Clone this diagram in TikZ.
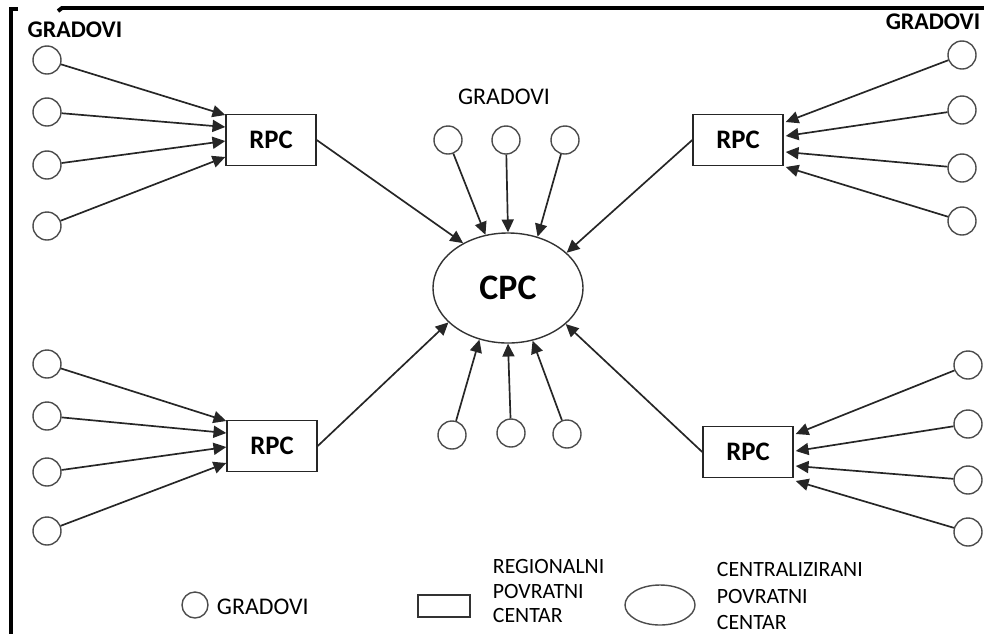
\documentclass[tikz,border=0pt]{standalone}
\usepackage{fontspec}
\setmainfont{Carlito}
\usetikzlibrary{positioning}
\usetikzlibrary{shapes.geometric}
\usetikzlibrary{arrows.meta}
\usetikzlibrary{calc}

\tikzset{
  grad/.style={circle,draw=black!70,line width=1pt,minimum size=0.7cm,inner sep=0pt},
  rpc/.style={rectangle,draw=black!85,line width=1pt,minimum width=2.25cm,minimum height=1.27cm,
    font=\fontsize{19}{22}\selectfont\bfseries},
  cpc/.style={ellipse,draw=black!80,line width=1pt,minimum width=3.75cm,minimum height=2.75cm,
    inner sep=0pt,font=\fontsize{25.5}{29}\selectfont\bfseries},
  tok/.style={-{Triangle[length=0.32cm,width=0.3cm]},line width=1.2pt,draw=black!85},
  legtext/.style={anchor=west,align=left,font=\fontsize{15.5}{17.5}\selectfont},
}

\begin{document}
\begin{tikzpicture}[x=0.025cm,y=-0.025cm]
        \useasboundingbox (0,0) rectangle (984,634);
        % frame
        \draw[line width=2.8pt] (18,9) -- (11,9) -- (11,634);
        \draw[line width=2.8pt] (58,11) -- (62,8) -- (984,8);

        % top left
        \node[font=\fontsize{17}{20}\selectfont\bfseries] (gradA) at (75,30) {GRADOVI};
        \node[grad] (a1) at (47,60) {};
        \node[grad] (a2) at (47,112) {};
        \node[grad] (a3) at (47,165) {};
        \node[grad] (a4) at (47,226) {};
        \node[rpc] (rpcA) at (271,140) {RPC};

        \draw[tok] (a1) -- ($(rpcA.west)+(0,-25)$);
        \draw[tok] (a2) -- ($(rpcA.west)+(0,-13)$);
        \draw[tok] (a3) -- ($(rpcA.west)+(0,1)$);
        \draw[tok] (a4) -- ($(rpcA.west)+(0,17)$);

        % top right
        \node[font=\fontsize{17}{20}\selectfont\bfseries] (gradB) at (933,22) {GRADOVI};
        \node[grad] (b1) at (962,55) {};
        \node[grad] (b2) at (962,110) {};
        \node[grad] (b3) at (962,168) {};
        \node[grad] (b4) at (962,221) {};
        \node[rpc] (rpcB) at (738,140) {RPC};

        \draw[tok] (b1) -- ($(rpcB.east)+(2,-18)$);
        \draw[tok] (b2) -- ($(rpcB.east)+(2,-4)$);
        \draw[tok] (b3) -- ($(rpcB.east)+(2,12)$);
        \draw[tok] (b4) -- ($(rpcB.east)+(2,27)$);

        % bottom left
        \node[grad] (c1) at (47,364) {};
        \node[grad] (c2) at (47,416) {};
        \node[grad] (c3) at (47,472) {};
        \node[grad] (c4) at (47,531) {};
        \node[rpc] (rpcC) at (272,446) {RPC};

        \draw[tok] (c1) -- ($(rpcC.west)+(0,-25)$);
        \draw[tok] (c2) -- ($(rpcC.west)+(0,-13)$);
        \draw[tok] (c3) -- ($(rpcC.west)+(0,1)$);
        \draw[tok] (c4) -- ($(rpcC.west)+(0,17)$);

        % bottom right
        \node[grad] (d1) at (968,365) {};
        \node[grad] (d2) at (968,424) {};
        \node[grad] (d3) at (968,480) {};
        \node[grad] (d4) at (968,532) {};
        \node[rpc] (rpcD) at (748,452) {RPC};

        \draw[tok] (d1) -- ($(rpcD.east)+(2,-18)$);
        \draw[tok] (d2) -- ($(rpcD.east)+(2,-1)$);
        \draw[tok] (d3) -- ($(rpcD.east)+(2,14)$);
        \draw[tok] (d4) -- ($(rpcD.east)+(2,29)$);

        % centre
        \node[cpc] (cpc) at (508,288) {CPC};
        \node[font=\fontsize{17}{20}\selectfont] (gradM) at (504,97) {GRADOVI};
        \node[grad] (m1) at (448,140) {};
        \node[grad] (m2) at (506,140) {};
        \node[grad] (m3) at (565,140) {};
        \node[grad] (n1) at (452,435) {};
        \node[grad] (n2) at (511,433) {};
        \node[grad] (n3) at (567,434) {};

        \draw[tok] (m1) -- (cpc.113);
        \draw[tok] (m2) -- (cpc.90);
        \draw[tok] (m3) -- (cpc.60);
        \draw[tok] (n1) -- (cpc.241);
        \draw[tok] (n2) -- (cpc.270);
        \draw[tok] (n3) -- (cpc.295);

        \draw[tok] (rpcA.east) -- (cpc.135);
        \draw[tok] (rpcB.west) -- (cpc.31);
        \draw[tok] (rpcC.east) -- (cpc.210);
        \draw[tok] (rpcD.west) -- (cpc.328);

        % legend
        \node[grad,minimum size=0.65cm] (lg1) at (195,605) {};
        \node[legtext,font=\fontsize{17}{20}\selectfont] (lt1) at (212,607) {GRADOVI};
        \node[draw=black!80,line width=1pt,minimum width=1.3cm,minimum height=0.55cm] (lg2) at (444,606) {};
        \node[legtext] (lt2) at (488,591) {REGIONALNI\\POVRATNI\\CENTAR};
        \node[ellipse,draw=black!70,line width=1pt,minimum width=1.75cm,minimum height=1cm] (lg3) at (660,605) {};
        \node[legtext,font=\fontsize{15.5}{18.5}\selectfont] (lt3) at (712,596) {CENTRALIZIRANI\\POVRATNI\\CENTAR};
      \end{tikzpicture}
\end{document}
